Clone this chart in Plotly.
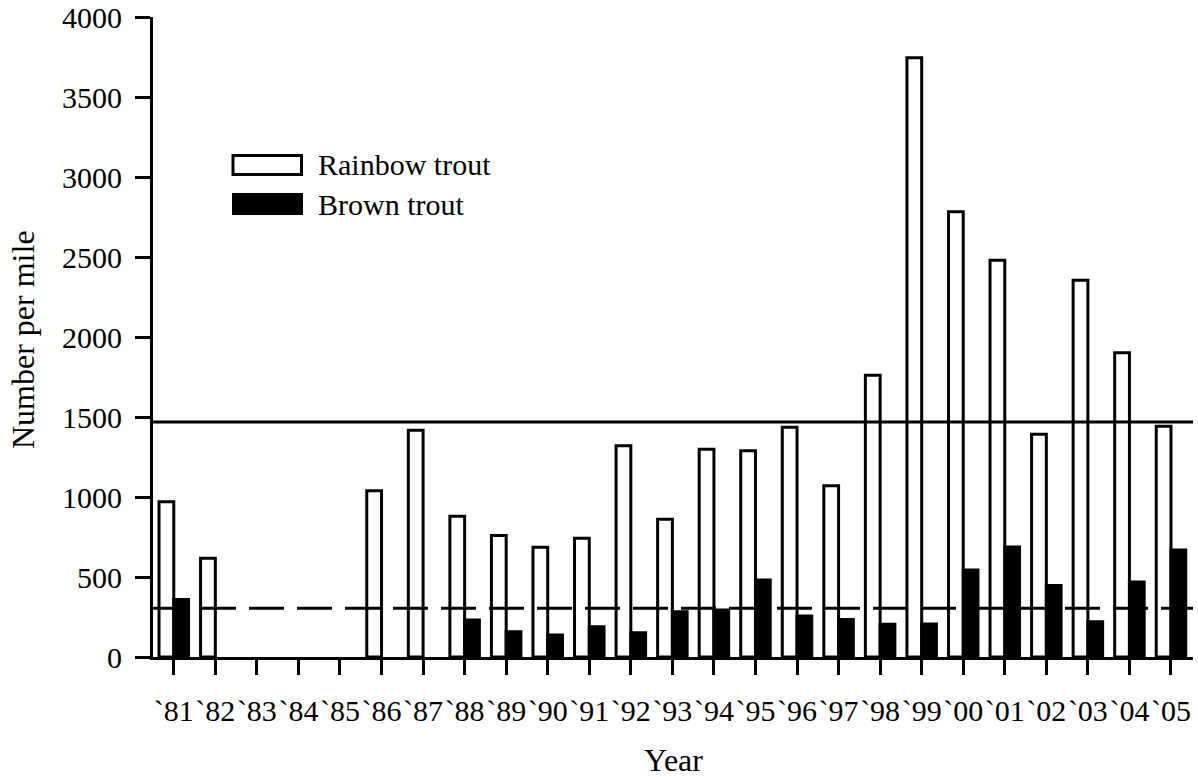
import plotly.graph_objects as go

years = ["`81", "`82", "`83", "`84", "`85", "`86", "`87", "`88", "`89", "`90",
         "`91", "`92", "`93", "`94", "`95", "`96", "`97", "`98", "`99", "`00",
         "`01", "`02", "`03", "`04", "`05"]
rainbow = [970, 617, None, None, None, 1039, 1417, 880, 760, 686,
           742, 1320, 861, 1298, 1289, 1436, 1070, 1761, 3745, 2783,
           2480, 1392, 2354, 1901, 1442]
brown = [360, None, None, None, None, None, None, 231, 158, 137,
         189, 151, 283, 293, 481, 256, 235, 204, 206, 543,
         687, 447, 220, 468, 668]
rainbow_mean = 1469
brown_mean = 304

FONT = "Liberation Serif"
FS = 32
TFS = 30
W, H = 1198, 777
L, R, T, B = 153, 5, 17, 120
PW, PH = W - L - R, H - T - B


def px(x):
    return (x - L) / PW


def py(y):
    return (H - B - y) / PH


fig = go.Figure()
fig.add_trace(go.Bar(x=years, y=rainbow, name="Rainbow trout",
                     marker=dict(color="white", line=dict(color="black", width=3))))
fig.add_trace(go.Bar(x=years, y=brown, name="Brown trout",
                     marker=dict(color="black", line=dict(color="black", width=3))))

shapes = [
    dict(type="line", xref="paper", yref="y", x0=0, x1=1, y0=rainbow_mean, y1=rainbow_mean,
         line=dict(color="black", width=3), layer="above"),
    dict(type="line", xref="paper", yref="y", x0=0, x1=1, y0=brown_mean, y1=brown_mean,
         line=dict(color="black", width=3, dash="35px,13px"), layer="above"),
    # legend symbols
    dict(type="rect", xref="paper", yref="paper", x0=px(233), x1=px(301.5), y0=py(155.5), y1=py(174.5),
         line=dict(color="black", width=3), fillcolor="white"),
    dict(type="rect", xref="paper", yref="paper", x0=px(232), x1=px(303), y0=py(193), y1=py(215),
         line=dict(color="black", width=0), fillcolor="black"),
]

annotations = [
    dict(text="Rainbow trout", xref="paper", yref="paper", x=px(316), y=py(165),
         xanchor="left", yanchor="middle", showarrow=False, font=dict(size=30, family=FONT, color="black")),
    dict(text="Brown trout", xref="paper", yref="paper", x=px(316), y=py(204),
         xanchor="left", yanchor="middle", showarrow=False, font=dict(size=30, family=FONT, color="black")),
    dict(text="Year", xref="paper", yref="paper", x=0.5, y=py(760),
         xanchor="center", yanchor="middle", showarrow=False, font=dict(size=FS, family=FONT, color="black")),
    dict(text="Number per mile", xref="paper", yref="paper", x=px(23), y=py(340), textangle=-90,
         xanchor="center", yanchor="middle", showarrow=False, font=dict(size=FS, family=FONT, color="black")),
]

fig.update_layout(
    width=W, height=H, autosize=False,
    margin=dict(l=L, r=R, t=T, b=B),
    paper_bgcolor="white", plot_bgcolor="white",
    barmode="group", bargap=0.29, bargroupgap=0,
    showlegend=False,
    font=dict(family=FONT, size=FS, color="black"),
    shapes=shapes, annotations=annotations,
    xaxis=dict(type="category", range=[-0.5, 24.53], showline=True, linecolor="black", linewidth=3,
               ticks="outside", ticklen=15, tickwidth=3, tickcolor="black", showgrid=False,
               tickangle=0, ticklabeloverflow="allow",
               tickfont=dict(size=TFS, family=FONT), ticklabelstandoff=10, automargin=False),
    yaxis=dict(range=[0, 4000], dtick=500, tick0=0, showline=True, linecolor="black", linewidth=3,
               ticks="outside", ticklen=15, tickwidth=3, tickcolor="black", showgrid=False,
               ticklabeloverflow="allow",
               zeroline=False, tickfont=dict(size=TFS, family=FONT), ticklabelstandoff=7,
               automargin=False),
)

fig.write_html("out.html")
